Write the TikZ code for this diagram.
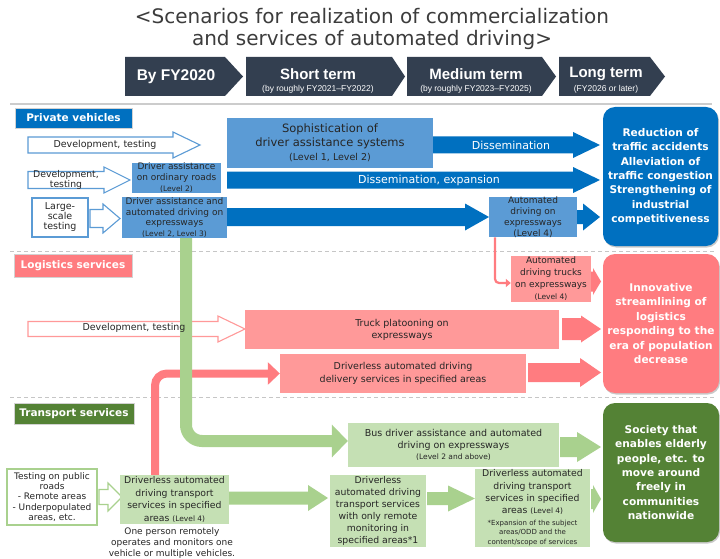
\documentclass[tikz,border=0pt]{standalone}
\usepackage{fontspec}
\setmainfont{DejaVu Sans}
\newfontfamily\titlefont{DejaVu Sans}
\newfontfamily\headfont{Liberation Sans}
\usetikzlibrary{shadows,arrows.meta}

\definecolor{dblue}{HTML}{0070C0}
\definecolor{lblue}{HTML}{5B9BD5}
\definecolor{pinkd}{HTML}{FF7C80}
\definecolor{pinkl}{HTML}{FF9999}
\definecolor{greenm}{HTML}{A9D18E}
\definecolor{greenl}{HTML}{C5E0B4}
\definecolor{greend}{HTML}{548235}
\definecolor{slate}{HTML}{333F50}
\definecolor{txt}{HTML}{262626}

\newcommand\fs[2]{\fontsize{#1}{#2}\selectfont}
% style, x1, x2, xhead, yc, bodyhalf, headhalf
\newcommand\blockarrow[7]{%
  \path[#1] (#2,#5-#6) -- (#4,#5-#6) -- (#4,#5-#7) -- (#3,#5) -- (#4,#5+#7) -- (#4,#5+#6) -- (#2,#5+#6) -- cycle;}
\newcommand\chev[5]{% x1, xbody, xtip, y1, y2
  \fill[slate] (#1,#4) -- (#2,#4) -- (#3,{(#4+#5)/2}) -- (#2,#5) -- (#1,#5) -- cycle;}

\begin{document}
\begin{tikzpicture}[x=1pt,y=-1pt,
  box/.style={rectangle, inner sep=0pt, align=center, text=txt, font=\fs{9}{11}},
  rbox/.style={rectangle, rounded corners=12pt, inner sep=0pt, align=center, text=white,
    font=\bfseries\fs{10.6}{14.4},
    drop shadow={shadow xshift=1pt, shadow yshift=-1.5pt, opacity=0.35, fill=black!60}},
  lbl/.style={rectangle, inner sep=0pt, text=white, font=\bfseries\fs{10.5}{12}, draw=gray!35, line width=0.8pt},
  olblue/.style={draw=lblue, fill=white, line width=1.1pt},
  olpink/.style={draw=pinkl, fill=white, line width=1.1pt},
  olgreen/.style={draw=greenm, fill=white, line width=1.1pt},
  atxt/.style={inner sep=0pt, text=txt, font=\fs{9.5}{11}, align=center},
  wtxt/.style={inner sep=0pt, text=white, font=\fs{11}{13}},
  hdrtxt/.style={text=white, inner sep=0pt, font=\headfont\bfseries\fs{15}{16}},
  hdrsub/.style={text=white, inner sep=0pt, font=\headfont\fs{8.5}{9}},
  sepline/.style={draw=gray!45, line width=1pt, dash pattern=on 4pt off 3pt},
]
\useasboundingbox (0,0) rectangle (720,559);
\fill[white] (0,0) rectangle (720,559);

% ---------- title ----------
\node[font=\titlefont\fs{20}{22}, text=txt!90, align=center, inner sep=0pt] (title) at (372,29)
  {<Scenarios for realization of commercialization\\and services of automated driving>};

% ---------- header chevrons ----------
\chev{125}{225}{243}{57}{96}
\chev{246}{392}{405}{57}{96}
\chev{407}{542}{556}{57}{96}
\chev{559}{650}{665}{57}{96}
\node[hdrtxt, font=\headfont\bfseries\fs{15.5}{16}] (h1) at (176,77) {By FY2020};
\node[hdrtxt] (h2) at (318,74) {Short term};
\node[hdrsub] (h2s) at (318,89) {(by roughly FY2021–FY2022)};
\node[hdrtxt] (h3) at (476,74) {Medium term};
\node[hdrsub] (h3s) at (476,89) {(by roughly FY2023–FY2025)};
\node[hdrtxt] (h4) at (606,74) {Long term};
\node[hdrsub] (h4s) at (606,89) {(FY2026 or later)};

\draw[gray!40, line width=1.5pt] (10,104) -- (712,104);
\draw[sepline] (10,251) -- (715,251);
\draw[sepline] (10,397) -- (715,397);

% ---------- section labels ----------
\node[lbl, fill=dblue, minimum width=117pt, minimum height=20pt] (pv) at (73.5,118) {Private vehicles};
\node[lbl, fill=pinkd, minimum width=118pt, minimum height=23pt] (ls) at (73,265.5) {Logistics services};
\node[lbl, fill=greend, minimum width=120pt, minimum height=21pt] (ts) at (74,413.5) {Transport services};

% ---------- right outcome boxes ----------
\node[rbox, fill=dblue, minimum width=115pt, minimum height=139pt] (r1) at (660.5,176.5)
  {Reduction of\\traffic accidents\\Alleviation of\\traffic congestion\\Strengthening of\\industrial\\competitiveness};
\node[rbox, fill=pinkd, minimum width=116pt, minimum height=139pt] (r2) at (661,323.5)
  {Innovative\\streamlining of\\logistics\\responding to the\\era of population\\decrease};
\node[rbox, fill=greend, minimum width=116pt, minimum height=139pt] (r3) at (661,472.5)
  {Society that\\enables elderly\\people, etc. to\\move around\\freely in\\communities\\nationwide};

% ---------- private vehicles ----------
\blockarrow{olblue}{28}{200}{173}{145}{8}{13}
\node[atxt] (a1t) at (105,145) {Development, testing};

\node[box, fill=lblue, minimum width=206pt, minimum height=50pt, font=\fs{11.5}{14}] (soph) at (330,143)
  {Sophistication of\\driver assistance systems\\{\fs{9.5}{13}(Level 1, Level 2)}};

\blockarrow{fill=dblue}{433}{600}{573}{145}{8.5}{13}
\node[wtxt] (a2t) at (511,145) {Dissemination};

\blockarrow{fill=dblue}{227}{600}{573}{180}{8.5}{13}
\node[wtxt] (a3t) at (429,180) {Dissemination, expansion};

\blockarrow{olblue}{28}{130}{104}{180}{8.5}{13}
\node[atxt, font=\fs{9.3}{8}] (a4t) at (66,180) {Development,\\testing};

\node[box, fill=lblue, minimum width=89pt, minimum height=30pt] (dao) at (176.5,178)
  {Driver assistance\\on ordinary roads\\{\fs{7.5}{10}(Level 2)}};

\node[box, draw=lblue, line width=1.1pt, fill=white, minimum width=56pt, minimum height=39pt, font=\fs{9.5}{10}] (lst) at (60,217.5)
  {Large-\\scale\\testing};
\blockarrow{olblue}{90}{120}{103}{218.5}{9}{14.5}

\node[box, fill=lblue, minimum width=105pt, minimum height=41pt, font=\fs{9}{10.5}] (daexp) at (174.5,217.5)
  {Driver assistance and\\automated driving on\\expressways\\{\fs{7.5}{10}(Level 2, Level 3)}};

\blockarrow{fill=dblue}{227}{489}{465}{217}{9}{13.5}
\node[box, fill=lblue, minimum width=88pt, minimum height=40pt, font=\fs{9}{10.8}] (ad4) at (533,217)
  {Automated\\driving on\\expressways\\(Level 4)};
\blockarrow{fill=dblue}{577}{600}{583}{217}{7}{13.5}

% ---------- logistics ----------
\blockarrow{olpink}{28}{245}{218}{329}{7.5}{13}

\node[box, fill=pinkl, minimum width=80pt, minimum height=46pt, font=\fs{9}{12}] (trucks) at (551,279)
  {Automated\\driving trucks\\on expressways\\{\fs{7.5}{10}(Level 4)}};
\blockarrow{fill=pinkd}{591}{601}{593}{281.5}{10}{13.5}

\node[box, fill=pinkl, minimum width=314pt, minimum height=39pt, font=\fs{9.5}{12}] (platoon) at (402,329.5)
  {Truck platooning on\\expressways};
\blockarrow{fill=pinkd}{562}{601}{581}{329}{11}{13.5}

\node[box, fill=pinkl, minimum width=246pt, minimum height=39pt, font=\fs{9.5}{13}] (delivery) at (403,373.5)
  {Driverless automated driving\\delivery services in specified areas};
\blockarrow{fill=pinkd}{528}{601}{580}{372.5}{9.5}{14.5}

\draw[pinkd, line width=2.2pt, rounded corners=4pt, -{Triangle[length=5pt,width=8pt]}]
  ([xshift=-38pt]ad4.south) |- ([yshift=-4pt]trucks.west);

% ---------- transport ----------
\node[box, fill=greenl, minimum width=211pt, minimum height=44pt, font=\fs{9.5}{11.5}] (bus) at (453.5,445)
  {Bus driver assistance and automated\\driving on expressways\\{\fs{7.5}{10}(Level 2 and above)}};
\blockarrow{fill=greenm}{560}{601}{577}{447}{10}{15}

\node[box, draw=greenm, line width=1.5pt, fill=white, minimum width=90pt, minimum height=56pt, font=\fs{9}{10.3}] (tpr) at (52,497)
  {Testing on public\\roads\\- Remote areas\\- Underpopulated\\areas, etc.};
\blockarrow{olgreen}{99}{122}{108}{497}{7.5}{14}

\node[box, fill=greenl, minimum width=109pt, minimum height=49pt, font=\fs{9.3}{12.5}] (dat1) at (174.5,499.5)
  {Driverless automated\\driving transport\\services in specified\\areas {\fs{7.5}{12.5}(Level 4)}};
\node[atxt, font=\fs{9}{11}] (cap) at (172,543)
  {One person remotely\\operates and monitors one\\vehicle or multiple vehicles.};

\blockarrow{fill=greenm}{229}{328}{308}{498}{6.5}{13}
\node[box, fill=greenl, minimum width=96pt, minimum height=72pt, font=\fs{9.3}{12}] (dat2) at (378,511)
  {Driverless\\automated driving\\transport services\\with only remote\\monitoring in\\specified areas*1};
\blockarrow{fill=greenm}{427}{475}{448}{498.5}{6.5}{13}

\node[box, fill=greenl, minimum width=115pt, minimum height=78pt, font=\fs{9.3}{12.3}] (dat3) at (532.5,508)
  {Driverless automated\\driving transport\\services in specified\\areas {\fs{7.5}{10}(Level 4)}\\[-1pt]
   {\fs{7}{9.5}*Expansion of the subject}\\[-2.5pt]{\fs{7}{9.5}areas/ODD and the}\\[-2.5pt]{\fs{7}{9.5}content/scope of services}};
\blockarrow{fill=greenm}{591}{601}{593}{499}{10}{14}

% ---------- pipes ----------
\draw[pinkd, line width=8pt, rounded corners=12pt, -{Triangle[length=12pt,width=22pt]}]
  ([xshift=-19.5pt]dat1.north) |- (delivery.west);
\draw[greenm, line width=12pt, rounded corners=16pt, -{Triangle[length=16pt,width=32pt]}]
  ([xshift=11.5pt]daexp.south) |- ([yshift=4pt]bus.west);

\node[atxt] (a8t) at (134,328) {Development, testing};
\end{tikzpicture}
\end{document}
